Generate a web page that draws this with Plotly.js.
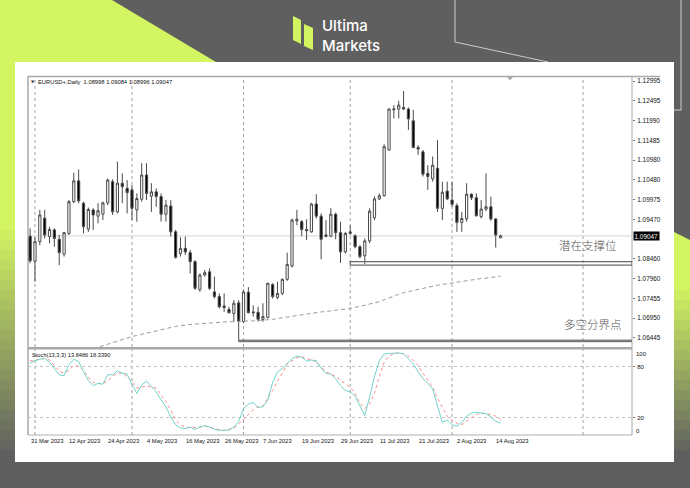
<!DOCTYPE html>
<html><head><meta charset="utf-8">
<script src="https://cdn.plot.ly/plotly-3.0.1.min.js"></script>
<style>html,body{margin:0;padding:0;background:#5f5f5f;}#chart{width:690px;height:488px;}</style>
</head><body><div id="chart"></div>
<script>
const W = 690, H = 488;

// ---------- DATA ----------
const dateLabels = ["31 Mar 2023","12 Apr 2023","24 Apr 2023","4 May 2023","16 May 2023","26 May 2023","7 Jun 2023","19 Jun 2023","29 Jun 2023","11 Jul 2023","21 Jul 2023","2 Aug 2023","14 Aug 2023"];
const dateBars = [0,8,16,24,32,40,48,56,64,72,80,88,96];
const monthSeparators = [1,21,44,66,87,114];

const open = [1.0904,1.0840,1.0890,1.0950,1.0903,1.0920,1.0896,1.0858,1.0911,1.0992,
1.1045,1.0988,1.0922,1.0971,1.0955,1.0960,1.0989,1.1043,1.0966,1.1039,
1.1026,1.1022,1.0971,1.0998,1.1060,1.1006,1.1017,1.1005,1.0960,1.0981,
1.0915,1.0860,1.0873,1.0862,1.0839,1.0768,1.0805,1.0813,1.0762,1.0750,
1.0726,1.0717,1.0707,1.0734,1.0686,1.0761,1.0711,1.0710,1.0692,1.0697,
1.0781,1.0748,1.0758,1.0794,1.0828,1.0943,1.0941,1.0921,1.0915,1.0986,
1.0955,1.0907,1.0904,1.0960,1.0913,1.0864,1.0911,1.0905,1.0877,1.0854,
1.0892,1.0951,1.0999,1.1007,1.1124,1.1226,1.1228,1.1232,1.1228,1.1198,
1.1130,1.1119,1.1064,1.1050,1.1077,1.0975,1.1019,1.0996,1.0982,1.0939,
1.0948,1.1011,1.1002,1.0954,1.0973,1.0979,1.0948,1.08998];
const high = [1.0924,1.0901,1.0971,1.0971,1.0928,1.0924,1.0907,1.0915,1.0996,1.1066,
1.1074,1.0992,1.0977,1.0975,1.0988,1.0992,1.1051,1.1049,1.1094,1.1064,
1.1047,1.1034,1.1013,1.1090,1.1090,1.1039,1.1026,1.1013,1.0996,1.0996,
1.0920,1.0901,1.0903,1.0869,1.0843,1.0809,1.0818,1.0822,1.0801,1.0758,
1.0758,1.0724,1.0741,1.0741,1.0768,1.0774,1.0728,1.0724,1.0733,1.0785,
1.0784,1.0788,1.0796,1.0862,1.0949,1.0971,1.0945,1.0947,1.0989,1.1011,
1.0962,1.0945,1.0975,1.0964,1.0941,1.0915,1.0931,1.0909,1.0881,1.0898,
1.0975,1.1005,1.1013,1.1138,1.1230,1.1238,1.1249,1.1274,1.1232,1.1226,
1.1136,1.1124,1.1085,1.1107,1.1149,1.1043,1.1043,1.1043,1.0988,1.0966,
1.1039,1.1013,1.1013,1.0996,1.1064,1.1005,1.0950,1.09084];
const low = [1.0835,1.0788,1.0881,1.0898,1.0886,1.0877,1.0830,1.0852,1.0907,1.0988,
1.0988,1.0911,1.0915,1.0920,1.0937,1.0945,1.0983,1.0958,1.0962,1.0988,
1.0962,1.0945,1.0941,1.0992,1.0996,1.0966,1.0979,1.0941,1.0941,1.0903,
1.0847,1.0852,1.0856,1.0809,1.0767,1.0762,1.0801,1.0767,1.0745,1.0720,
1.0711,1.0707,1.0686,1.0639,1.0683,1.0707,1.0699,1.0686,1.0686,1.0694,
1.0745,1.0743,1.0754,1.0790,1.0824,1.0932,1.0904,1.0894,1.0913,1.0949,
1.0845,1.0901,1.0901,1.0896,1.0836,1.0860,1.0907,1.0873,1.0847,1.0833,
1.0886,1.0945,1.0996,1.1005,1.1121,1.1204,1.1204,1.1226,1.1175,1.1128,
1.1111,1.1056,1.1022,1.1043,1.0966,1.0945,1.0996,1.0979,1.0915,1.0915,
1.0941,1.0996,1.0954,1.0949,1.0968,1.0943,1.0875,1.08996];
const close = [1.0841,1.0890,1.0958,1.0907,1.0921,1.0898,1.0862,1.0913,1.0992,1.1045,
1.0994,1.0928,1.0972,1.0958,1.0969,1.0989,1.1047,1.0966,1.1039,1.1030,
1.1015,1.0975,1.1000,1.1060,1.1013,1.1017,1.1005,1.0960,1.0983,1.0915,
1.0850,1.0873,1.0864,1.0839,1.0771,1.0805,1.0811,1.0771,1.0750,1.0724,
1.0722,1.0709,1.0733,1.0688,1.0762,1.0709,1.0709,1.0692,1.0699,1.0784,
1.0750,1.0758,1.0794,1.0832,1.0945,1.0947,1.0921,1.0918,1.0986,1.0955,
1.0896,1.0904,1.0960,1.0913,1.0864,1.0911,1.0915,1.0877,1.0852,1.0892,
1.0968,1.0999,1.1007,1.1132,1.1228,1.1228,1.1238,1.1228,1.1203,1.1130,
1.1126,1.1062,1.1056,1.1085,1.0975,1.1016,1.0999,1.0985,1.0939,1.0949,
1.1011,1.1002,1.0956,1.0973,1.0979,1.0948,1.0907,1.09047];

const movingAvg = [null,null,null,null,null,null,null,null,null,null,null,null,null,
1.0617,1.0621,1.0625,1.0629,1.0633,1.0637,1.0641,1.0645,1.0648,1.0651,
1.0654,1.0657,1.0660,1.0663,1.0666,1.0669,1.0671,1.0674,1.0676,1.0678,
1.0679,1.0680,1.0681,1.0682,1.0683,1.0684,1.0685,1.0685,1.0686,1.0686,
1.0687,1.0687,1.0688,1.0688,1.0689,1.0690,1.0690,1.0692,1.0694,1.0696,
1.0698,1.0700,1.0701,1.0703,1.0705,1.0707,1.0709,1.0711,1.0712,1.0714,
1.0715,1.0717,1.0718,1.0720,1.0722,1.0725,1.0728,1.0731,1.0734,1.0737,
1.0742,1.0747,1.0752,1.0756,1.0760,1.0763,1.0766,1.0769,1.0772,1.0774,
1.0776,1.0779,1.0781,1.0783,1.0785,1.0787,1.0789,1.0790,1.0792,1.0794,
1.0796,1.0797,1.0799,1.0800,1.0802];

const stochMain = [84.0,86.8,88.6,89.5,85.0,77.7,70.4,69.5,82.2,88.6,
85.9,74.0,64.0,57.6,60.3,59.4,70.4,70.4,74.9,72.2,
71.3,59.4,48.5,58.5,63.1,56.7,50.3,41.2,33.0,21.1,
12.0,8.3,7.4,9.3,6.5,9.3,11.1,9.3,6.5,5.6,
5.2,5.6,9.3,15.6,31.1,36.0,38.2,32.0,33.1,41.2,
61.2,74.0,77.7,83.1,89.5,92.3,91.3,86.5,87.7,86.8,
78.0,72.2,71.3,65.8,57.6,52.1,50.5,45.6,33.1,22.6,
44.8,68.2,86.9,94.7,95.4,95.9,95.9,95.0,89.5,83.1,
74.0,65.8,60.3,54.0,33.9,14.7,17.5,12.0,10.2,14.7,
22.0,25.7,26.6,25.7,24.8,21.1,16.0,13.8486];
const stochSignal = [86.8,87.7,88.6,89.5,87.7,81.3,74.9,72.2,75.8,81.3,
80.4,75.8,67.6,61.2,60.3,60.3,63.1,68.5,72.2,72.2,
68.5,62.2,54.9,55.8,57.6,55.8,54.9,46.7,39.4,29.3,
17.5,12.0,9.3,8.8,8.8,9.3,10.2,9.3,7.4,6.1,
5.2,6.5,8.3,12.9,18.4,24.8,29.3,33.0,33.9,43.0,
52.1,63.1,72.2,83.1,86.8,90.4,91.3,89.5,87.7,85.9,
79.5,74.0,71.3,68.5,64.0,59.4,55.8,48.5,37.5,31.1,
36.6,48.5,68.5,85.0,92.3,95.0,95.9,95.0,92.3,87.7,
81.3,72.2,64.0,55.8,43.0,32.1,22.0,16.6,13.8,12.0,
15.6,20.2,23.9,25.7,24.8,23.9,22.0,18.339];

const priceTicks = [1.12995,1.12495,1.11990,1.11485,1.10980,1.10480,1.09975,1.09470,1.08460,1.07960,1.07455,1.06950,1.06445];
const priceTickText = ["1.12995","1.12495","1.11990","1.11485","1.10980","1.10480","1.09975","1.09470","1.08460","1.07960","1.07455","1.06950","1.06445"];
const stochTicks = [20,80];
const lastPrice = 1.09047;
const supportZone = [1.0830, 1.0839];
const pivotZone = [1.0635, 1.0639];
const supportStartBar = 66, pivotStartBar = 43;
const chartTitle = "EURUSD+,Daily  1.08998 1.09084 1.08996 1.09047";
const stochTitle = "Stoch(13,3,3) 13.8486 18.3390";
const supportLabel = "潜在支撑位";
const pivotLabel = "多空分界点";

// ---------- LAYOUT HELPERS ----------
const px = x => x / W, py = y => 1 - y / H;
const path = pts => 'M' + pts.map(p => px(p[0]).toFixed(5) + ',' + py(p[1]).toFixed(5)).join('L') + 'Z';
const bars = open.map((_, i) => i);
const xRange = [-0.44, 124.1];
const LIME = [212, 245, 98], GRAY = [95, 95, 95];
const mix = t => 'rgb(' + LIME.map((c, k) => Math.round(c + (GRAY[k] - c) * t)).join(',') + ')';
const FONT = "Liberation Sans, Arial, DejaVu Sans, sans-serif";

const shapes = [];
const pshape = o => shapes.push(Object.assign({xref:'paper', yref:'paper', layer:'below'}, o));
const rectPx = (x0, y0, x1, y1, fill) => pshape({type:'rect', x0:px(x0), x1:px(x1), y0:py(y1), y1:py(y0), fillcolor:fill, line:{width:0}});
const linePx = (x0, y0, x1, y1, color, w, dash) => pshape({type:'line', x0:px(x0), x1:px(x1), y0:py(y0), y1:py(y1), line:{color:color, width:w, dash:dash || 'solid'}});

// background decoration
pshape({type:'path', path: path([[0,0],[112,0],[216,62],[0,62]]), fillcolor: mix(0), line:{width:0}});
rectPx(0, 62, 15, 232, mix(0));
for (let k = 0; k < 23; k++) rectPx(0, 230 + k*10, 15, 241 + k*10, mix((k + 1) / 23));
rectPx(0, 460, 15, 488, mix(1));
pshape({type:'path', path: path([[674,232],[690,240],[690,292],[674,292]]), fillcolor: mix(0), line:{width:0}});
for (let k = 0; k < 17; k++) rectPx(674, 290 + k*10, 690, 301 + k*10, mix((k + 1) / 17));
linePx(455, 0, 455, 42, 'rgba(230,230,230,0.8)', 1);
linePx(455, 42, 548, 62, 'rgba(230,230,230,0.8)', 1);
linePx(681, 0, 681, 110, 'rgba(230,230,230,0.8)', 1);
linePx(673, 110, 681, 110, 'rgba(230,230,230,0.8)', 1);
// white panel
rectPx(15, 62, 674, 462, '#ffffff');
// logo icon
pshape({type:'path', path: path([[293,16],[301,20],[301,44],[293,40]]), fillcolor: mix(0), line:{width:0}});
pshape({type:'path', path: path([[304,24],[313,28],[313,50],[304,46]]), fillcolor: mix(0), line:{width:0}});
// chart frame
linePx(28, 76.5, 660, 76.5, '#a8a8a8', 1.5);
linePx(28, 76.5, 28, 435, '#a8a8a8', 1.5);
linePx(632, 76.5, 632, 435, '#a8a8a8', 1);
linePx(28, 348.2, 632, 348.2, '#a8a8a8', 2.5);
linePx(28, 435, 632, 435, '#b0b0b0', 1);
pshape({type:'path', path: path([[507,77],[513,77],[510,80.5]]), fillcolor:'#aaaaaa', line:{width:0}});

// month separators (dotted) in both panels
monthSeparators.forEach(b => {
  shapes.push({type:'line', xref:'x', yref:'y domain', x0:b, x1:b, y0:0, y1:1, layer:'below', line:{color:'#a0a0a0', width:1, dash:'dot'}});
  shapes.push({type:'line', xref:'x2', yref:'y2 domain', x0:b, x1:b, y0:0, y1:1, layer:'below', line:{color:'#a0a0a0', width:1, dash:'dot'}});
});
// bid line
shapes.push({type:'line', xref:'x domain', yref:'y', x0:0, x1:1, y0:lastPrice, y1:lastPrice, layer:'below', line:{color:'#d4d4d4', width:1}});
// support / pivot levels
shapes.push({type:'rect', xref:'x', yref:'y', x0:supportStartBar, x1:xRange[1], y0:supportZone[0], y1:supportZone[1], layer:'above', line:{color:'#6a6a6a', width:1.2}, fillcolor:'rgba(0,0,0,0)'});
shapes.push({type:'rect', xref:'x', yref:'y', x0:pivotStartBar, x1:xRange[1], y0:pivotZone[0], y1:pivotZone[1], layer:'above', line:{color:'#6a6a6a', width:1}, fillcolor:'#7a7a7a'});

// ---------- ANNOTATIONS ----------
const annotations = [];
const ann = o => annotations.push(Object.assign({showarrow:false, xref:'paper', yref:'paper', font:{family:FONT, size:6, color:'#111'}}, o));
ann({x:px(29), y:py(81.5), xanchor:'left', yanchor:'middle', text:'▼', font:{family:'DejaVu Sans', size:4, color:'#333'}});
ann({x:px(36), y:py(81.5), xanchor:'left', yanchor:'middle', text:chartTitle, font:{family:FONT, size:5.8, color:'#111'}});
ann({x:px(30), y:py(354.5), xanchor:'left', yanchor:'middle', text:stochTitle, font:{family:FONT, size:5.7, color:'#111'}});
dateLabels.forEach((t, k) => ann({xref:'x2', x:dateBars[k], xshift:-1.5, y:py(440.5), xanchor:'left', yanchor:'middle', text:t, font:{family:FONT, size:5.8, color:'#111'}}));
ann({xref:'paper', x:px(633), yref:'y', y:lastPrice, xanchor:'left', yanchor:'middle', text:'1.09047', bgcolor:'#000000', borderpad:0.5, font:{family:FONT, size:6.4, color:'#ffffff'}});
ann({x:px(634), yref:'y2', y:100, yshift:-4, xanchor:'left', yanchor:'middle', text:'100', font:{family:FONT, size:6, color:'#111'}});
ann({x:px(634), yref:'y2', y:0, yshift:4, xanchor:'left', yanchor:'middle', text:'0', font:{family:FONT, size:6, color:'#111'}});
ann({x:px(588), y:py(244.5), xanchor:'center', yanchor:'middle', text:supportLabel, font:{family:'Noto Sans CJK SC', size:11.5, color:'#555', weight:300}});
ann({x:px(593), y:py(323.5), xanchor:'center', yanchor:'middle', text:pivotLabel, font:{family:'Noto Sans CJK SC', size:11.5, color:'#555', weight:300}});
ann({x:px(321), y:py(25.5), xanchor:'left', yanchor:'middle', borderpad:0, text:'Ultima', font:{family:'Inter, Roboto, sans-serif', size:15, color:'#ffffff', weight:500}});
ann({x:px(321), y:py(45.5), xanchor:'left', yanchor:'middle', borderpad:0, text:'Markets', font:{family:'Inter, Roboto, sans-serif', size:15, color:'#ffffff', weight:500}});

// ---------- TRACES ----------
const traces = [
  {type:'candlestick', x:bars, open:open, high:high, low:low, close:close, xaxis:'x', yaxis:'y',
   whiskerwidth:0, hoverinfo:'skip', showlegend:false,
   increasing:{line:{color:'#4a4a4a', width:1}, fillcolor:'#ffffff'},
   decreasing:{line:{color:'#4a4a4a', width:1}, fillcolor:'#000000'}},
  {type:'scatter', mode:'lines', x:bars, y:movingAvg, xaxis:'x', yaxis:'y', hoverinfo:'skip', showlegend:false,
   line:{color:'#9a9a9a', width:1, dash:'4px,3px'}},
  {type:'scatter', mode:'lines', x:bars, y:stochSignal, xaxis:'x2', yaxis:'y2', hoverinfo:'skip', showlegend:false,
   line:{color:'#ff8a8a', width:1, dash:'dot'}},
  {type:'scatter', mode:'lines', x:bars, y:stochMain, xaxis:'x2', yaxis:'y2', hoverinfo:'skip', showlegend:false,
   line:{color:'#72d2ca', width:1}}
];

const xDomain = [px(28), px(632)];
const layout = {
  width:W, height:H, margin:{l:0, r:0, t:0, b:0, pad:0, autoexpand:false},
  paper_bgcolor:'#5f5f5f', plot_bgcolor:'rgba(0,0,0,0)', showlegend:false, hovermode:false, boxgap:0.35,
  xaxis:{domain:xDomain, range:xRange, anchor:'y', showticklabels:false, showgrid:false, zeroline:false, ticks:'', rangeslider:{visible:false}, fixedrange:true},
  yaxis:{domain:[py(347), py(76.5)], range:[1.06215, 1.13110], anchor:'x', side:'right', tickvals:priceTicks, ticktext:priceTickText,
         ticks:'outside', ticklen:2, tickcolor:'#777', tickfont:{family:FONT, size:6.4, color:'#111'}, ticklabelstandoff:1,
         showgrid:false, zeroline:false, showline:false, fixedrange:true},
  xaxis2:{domain:xDomain, matches:'x', anchor:'y2', showticklabels:false, showgrid:false, zeroline:false, ticks:'', fixedrange:true},
  yaxis2:{domain:[py(435), py(349.5)], range:[0, 100], anchor:'x2', side:'right', tickvals:stochTicks, ticktext:stochTicks.map(String),
          ticks:'outside', ticklen:2, tickcolor:'#777', tickfont:{family:FONT, size:6, color:'#111'}, ticklabelstandoff:1,
          showgrid:true, gridcolor:'#c4c4c4', griddash:'dot', gridwidth:1, zeroline:false, showline:false, fixedrange:true},
  shapes:shapes, annotations:annotations
};

Plotly.newPlot('chart', traces, layout, {displayModeBar:false, staticPlot:true});
</script></body></html>
